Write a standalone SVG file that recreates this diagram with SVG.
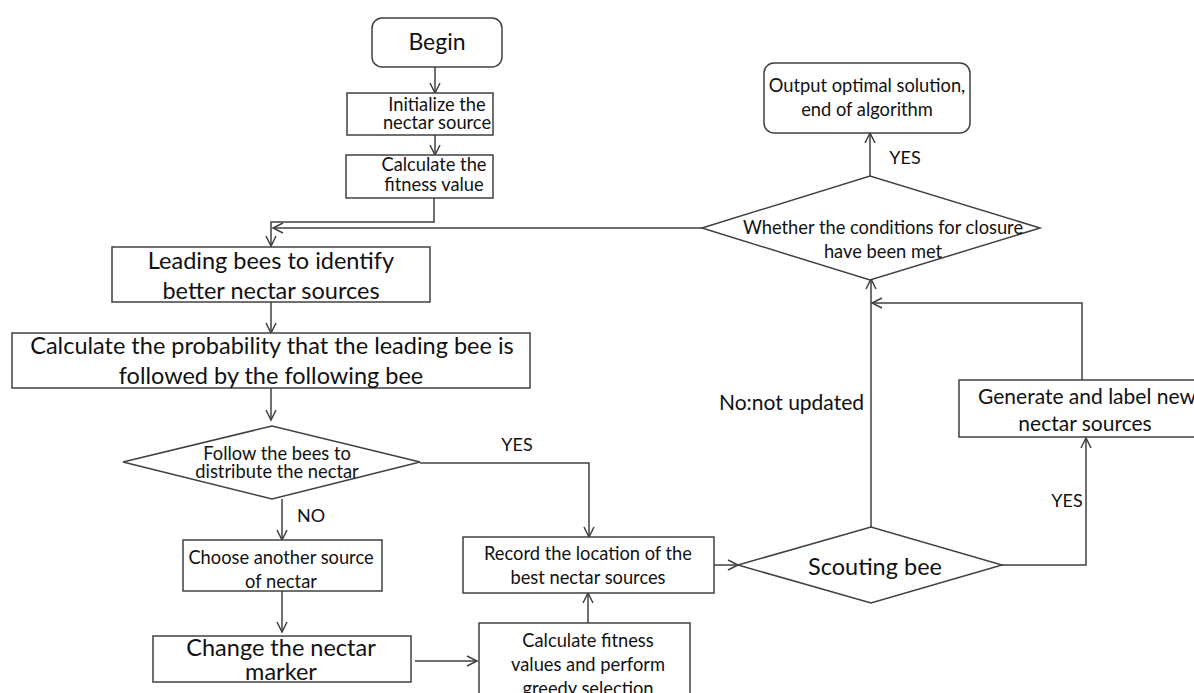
<svg xmlns="http://www.w3.org/2000/svg" width="1194" height="693" viewBox="0 0 1194 693">
<style>
.box{fill:#fff;stroke:#404040;stroke-width:1.5}
.ln{fill:none;stroke:#404040;stroke-width:1.5}
.t{font-family:Lato,"Liberation Sans",sans-serif;fill:#111;text-anchor:middle}
.s16{font-size:18.3px}.s18{font-size:18px}.s21{font-size:21px}.s23{font-size:23.5px}
</style>
<defs>
<marker id="a" markerUnits="userSpaceOnUse" markerWidth="14" markerHeight="14" refX="11" refY="6" orient="auto">
<path d="M1,1 L11,6 L1,11" fill="none" stroke="#404040" stroke-width="1.5"/>
</marker>
</defs>
<rect width="1194" height="693" fill="#fff"/>
<g id="connectors">
<path class="ln" d="M435,67 V93" marker-end="url(#a)"/>
<path class="ln" d="M435,135 V155" marker-end="url(#a)"/>
<path class="ln" d="M434,198 V222 H271 V246" marker-end="url(#a)"/>
<path class="ln" d="M702,228 H273" marker-end="url(#a)"/>
<path class="ln" d="M271,302 V333" marker-end="url(#a)"/>
<path class="ln" d="M271,388 V420" marker-end="url(#a)"/>
<path class="ln" d="M420,463 H589 V537" marker-end="url(#a)"/>
<path class="ln" d="M282,499 V540" marker-end="url(#a)"/>
<path class="ln" d="M282,591 V632" marker-end="url(#a)"/>
<path class="ln" d="M415,661 H477" marker-end="url(#a)"/>
<path class="ln" d="M588,623 V593" marker-end="url(#a)"/>
<path class="ln" d="M714,565 H738" marker-end="url(#a)"/>
<path class="ln" d="M871,527 V279" marker-end="url(#a)"/>
<path class="ln" d="M1082,380 V303 H872" marker-end="url(#a)"/>
<path class="ln" d="M1002,565 H1086 V438" marker-end="url(#a)"/>
<path class="ln" d="M870,176 V133" marker-end="url(#a)"/>
<text class="t s18" x="517" y="451">YES</text>
<text class="t s18" x="311" y="522">NO</text>
<text class="t s18" x="905" y="164">YES</text>
<text class="t s18" x="1067" y="507">YES</text>
<text class="t s21" x="864" y="410" style="text-anchor:end">No:not updated</text>
</g>
<g id="begin">
<rect class="box" x="372" y="18" width="130" height="49" rx="10"/>
<text class="t" style="font-size:23px" x="437" y="50">Begin</text>
</g>
<g id="init">
<rect class="box" x="347" y="93" width="146" height="42"/>
<text class="t s16" x="437" y="111">Initialize the</text>
<text class="t s16" x="437" y="129">nectar source</text>
</g>
<g id="calcfit">
<rect class="box" x="346" y="155" width="147" height="43"/>
<text class="t s16" x="434" y="171">Calculate the</text>
<text class="t s16" x="434" y="191">fitness value</text>
</g>
<g id="leading">
<rect class="box" x="112" y="247" width="318" height="55"/>
<text class="t s23" x="271" y="269">Leading bees to identify</text>
<text class="t s23" x="271" y="299">better nectar sources</text>
</g>
<g id="prob">
<rect class="box" x="12" y="333" width="518" height="55"/>
<text class="t s23" x="272" y="354">Calculate the probability that the leading bee is</text>
<text class="t s23" x="271" y="384">followed by the following bee</text>
</g>
<g id="follow">
<path class="box" d="M123,462 L272,426 L420,462 L272,499 Z"/>
<text class="t s16" x="277" y="460">Follow the bees to</text>
<text class="t s16" x="277" y="478">distribute the nectar</text>
</g>
<g id="choose">
<rect class="box" x="183" y="540" width="199" height="51"/>
<text class="t s16" x="281" y="564">Choose another source</text>
<text class="t s16" x="281" y="588">of nectar</text>
</g>
<g id="change">
<rect class="box" x="153" y="636" width="258" height="46"/>
<text class="t s23" x="281" y="656">Change the nectar</text>
<text class="t s23" x="281" y="680">marker</text>
</g>
<g id="greedy">
<rect class="box" x="479" y="623" width="211" height="80"/>
<text class="t s16" x="588" y="647">Calculate fitness</text>
<text class="t s16" x="588" y="671">values and perform</text>
<text class="t s16" x="588" y="695">greedy selection</text>
</g>
<g id="record">
<rect class="box" x="463" y="537" width="251" height="56"/>
<text class="t s16" x="588" y="560">Record the location of the</text>
<text class="t s16" x="588" y="584">best nectar sources</text>
</g>
<g id="scout">
<path class="box" d="M738,565 L871,527 L1002,565 L871,603 Z"/>
<text class="t s23" x="875" y="575">Scouting bee</text>
</g>
<g id="generate">
<rect class="box" x="959" y="380" width="240" height="57"/>
<text class="t s21" x="1087" y="404">Generate and label new</text>
<text class="t s21" x="1085" y="431">nectar sources</text>
</g>
<g id="whether">
<path class="box" d="M702,228 L870,176 L1040,228 L870,280 Z"/>
<text class="t s16" x="883" y="234">Whether the conditions for closure</text>
<text class="t s16" x="883" y="258">have been met</text>
</g>
<g id="output">
<rect class="box" x="764" y="63" width="206" height="70" rx="10"/>
<text class="t s16" x="867" y="92">Output optimal solution,</text>
<text class="t s16" x="867" y="116">end of algorithm</text>
</g>
</svg>
